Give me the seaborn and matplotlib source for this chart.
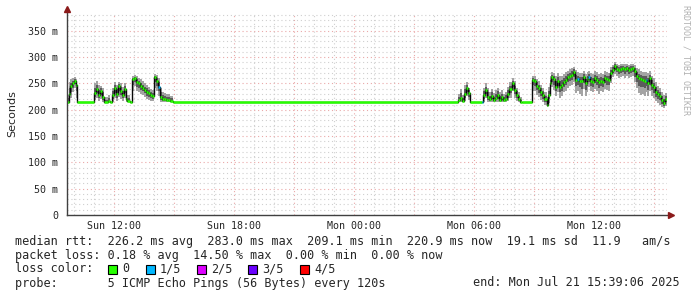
import numpy as np
import pandas as pd
import matplotlib
matplotlib.use("Agg")
import matplotlib.pyplot as plt
from matplotlib.patches import Rectangle
import seaborn as sns

# ---------------- data (minutes after window start Sun 09:39:06) ----------------
start_hour = 9 + 39.1 / 60.0
window_minutes = 1800

t_seg1 = [0, 5, 9, 15, 20, 26, 30, 81, 87, 93, 99, 105, 111, 123, 129, 135, 141, 147, 153, 159,
          165, 171, 176, 180, 189, 196, 201, 207, 213, 219, 225, 231, 237, 243, 249, 255, 262, 267,
          273, 279, 285, 291, 297, 303, 309, 318]
med_seg1 = [215, 230, 245, 250, 255, 248, 214, 232, 240, 228, 236, 225, 214, 216, 214, 228, 242, 230, 245, 235,
            228, 240, 220, 216, 214, 258, 260, 252, 250, 245, 242, 238, 234, 231, 228, 226, 262, 255,
            244, 225, 221, 220, 218, 219, 217, 214]
hi_seg1 = [228, 252, 258, 260, 262, 258, 214, 250, 254, 248, 246, 242, 224, 228, 214, 242, 252, 248, 252, 250,
           244, 250, 238, 228, 214, 264, 266, 264, 260, 258, 254, 250, 248, 244, 240, 238, 268, 266,
           260, 242, 234, 232, 230, 230, 226, 214]
lo_seg1 = [212, 214, 222, 234, 242, 222, 214, 218, 222, 216, 220, 214, 214, 214, 214, 214, 222, 216, 225, 220,
           216, 222, 214, 214, 214, 236, 246, 236, 234, 230, 228, 225, 220, 218, 216, 216, 242, 236,
           226, 214, 214, 214, 214, 214, 214, 214]

t_seg2 = [1173, 1179, 1185, 1191, 1197, 1203, 1209, 1244, 1248, 1254, 1260, 1266, 1272, 1278,
          1284, 1290, 1296, 1302, 1308, 1314, 1320, 1326, 1334, 1341, 1347, 1353, 1359, 1365]
med_seg2 = [218, 222, 216, 230, 241, 232, 214, 214, 228, 238, 225, 220, 226, 218,
            222, 228, 219, 224, 218, 221, 230, 240, 250, 238, 228, 220, 215, 214]
hi_seg2 = [230, 240, 228, 248, 252, 242, 214, 214, 242, 250, 242, 234, 240, 232,
           237, 242, 234, 237, 230, 234, 244, 252, 260, 254, 242, 234, 224, 214]
lo_seg2 = [214, 214, 214, 216, 226, 218, 214, 214, 214, 222, 214, 214, 214, 214,
           214, 214, 214, 214, 214, 214, 216, 222, 235, 222, 216, 214, 214, 214]

t_seg3 = [1394, 1401, 1407, 1413, 1419, 1425, 1431, 1439,
          1443, 1449, 1453, 1458, 1464, 1470, 1476, 1483, 1488, 1494,
          1500, 1506, 1512, 1518, 1524, 1530, 1536, 1542, 1548, 1554,
          1560, 1564, 1569, 1575, 1581, 1587, 1593, 1599, 1605, 1611,
          1617, 1623, 1629, 1635, 1641, 1647, 1653, 1659, 1665, 1671,
          1677, 1683, 1689, 1695, 1701, 1707, 1713, 1719, 1725, 1731,
          1736, 1740, 1746, 1752, 1758, 1764, 1770, 1776, 1782, 1788,
          1794]
med_seg3 = [257, 254, 246, 241, 234, 228, 220, 209,
            228, 250, 262, 258, 244, 255, 244, 247, 252, 257,
            262, 264, 266, 272, 257, 258, 255, 254, 262, 250,
            258, 263, 255, 253, 260, 257, 253, 255, 253, 260,
            258, 257, 270, 276, 283, 278, 276, 278, 279, 277,
            279, 276, 278, 279, 274, 265, 260, 258, 257, 255,
            257, 250, 260, 248, 243, 234, 230, 226, 218, 212,
            220]
hi_seg3 = [264, 264, 258, 254, 248, 242, 234, 224,
           244, 264, 272, 270, 264, 270, 264, 265, 268, 272,
           274, 277, 280, 282, 275, 272, 270, 270, 274, 268,
           272, 274, 270, 268, 274, 272, 268, 270, 268, 274,
           272, 270, 282, 286, 290, 287, 286, 287, 288, 287,
           288, 286, 287, 288, 286, 280, 277, 274, 272, 272,
           272, 270, 274, 264, 260, 252, 246, 242, 234, 228,
           232]
lo_seg3 = [236, 236, 228, 224, 218, 214, 210, 205,
           212, 232, 244, 238, 226, 234, 222, 226, 234, 236,
           242, 246, 248, 252, 232, 236, 230, 226, 240, 226,
           234, 244, 236, 234, 240, 236, 230, 236, 234, 240,
           238, 236, 250, 262, 268, 265, 260, 263, 265, 260,
           265, 260, 262, 265, 252, 242, 232, 228, 230, 226,
           234, 226, 236, 226, 222, 216, 212, 210, 205, 203,
           208]

loss_1of5_times = [273, 1244, 1530, 1564, 1736]

ytick_values = [0, 50, 100, 150, 200, 250, 300, 350]
ytick_labels = ["0", "50 m", "100 m", "150 m", "200 m", "250 m", "300 m", "350 m"]
xtick_hours = [12, 18, 24, 30, 36]
xtick_labels = ["Sun 12:00", "Sun 18:00", "Mon 00:00", "Mon 06:00", "Mon 12:00"]

loss_names = ["0", "1/5", "2/5", "3/5", "4/5"]
loss_colors = ["#26ff00", "#00b8ff", "#dd00ff", "#6a00ff", "#ff0000"]

legend_line1 = "median rtt:  226.2 ms avg  283.0 ms max  209.1 ms min  220.9 ms now  19.1 ms sd  11.9   am/s"
legend_line2 = "packet loss: 0.18 % avg  14.50 % max  0.00 % min  0.00 % now"
legend_line4 = "probe:       5 ICMP Echo Pings (56 Bytes) every 120s"
end_text = "end: Mon Jul 21 15:39:06 2025"
credit = "RRDTOOL / TOBI OETIKER"

# ---------------- build table ----------------
t_all = t_seg1 + t_seg2 + t_seg3
df = pd.DataFrame({
    "t": t_all,
    "med": med_seg1 + med_seg2 + med_seg3,
    "hi": hi_seg1 + hi_seg2 + hi_seg3,
    "lo": lo_seg1 + lo_seg2 + lo_seg3,
})
df["loss"] = np.where(df["t"].isin(loss_1of5_times), 1, 0)
last = df.iloc[[-1]].copy()
last["t"] = window_minutes
df = pd.concat([df, last], ignore_index=True)
df["hour"] = start_hour + df["t"] / 60.0

# ---------------- figure ----------------
sns.set_style("white")
plt.rcParams["font.family"] = ["DejaVu Sans Mono", "DejaVu Sans"]

W, H = 697, 297
fig = plt.figure(figsize=(W / 100, H / 100), dpi=100)
fig.patch.set_facecolor("white")
ax = fig.add_axes([67 / W, 82 / H, 600 / W, 202 / H])
ax.set_facecolor("white")

x0, x1 = start_hour, start_hour + window_minutes / 60.0
ax.set_xlim(x0, x1)
ax.set_ylim(0, 384)

# grid
minor_col = "#cfcfcf"
major_col = "#eaa8a8"
dot = (0, (1, 2.5))
for h in np.arange(10, 40, 1):
    ax.axvline(h, color=major_col if h % 3 == 0 else minor_col, lw=0.8, ls=dot, zorder=0)
for v in np.arange(10, 384, 10):
    ax.axhline(v, color=major_col if v % 50 == 0 else minor_col, lw=0.8, ls=dot, zorder=0)

# smoke
hrs = df["hour"].to_numpy()
ax.fill_between(hrs, df["lo"], df["hi"], step="post", color="#a4a4a4", lw=0, zorder=2)
ax.fill_between(hrs, (df["lo"] + df["med"]) / 2, (df["hi"] + df["med"]) / 2,
                step="post", color="#5c5c5c", lw=0, zorder=3)

# dark median connector
sns.lineplot(data=df, x="hour", y="med", drawstyle="steps-post", color="#080808",
             lw=1.0, estimator=None, sort=False, ax=ax, zorder=4)

# coloured median segments
for i in range(len(df) - 1):
    ax.hlines(df["med"].iloc[i], hrs[i], hrs[i + 1], color=loss_colors[df["loss"].iloc[i]],
              lw=1.8, zorder=5)

# axes
ax.set_xlabel("")
ax.set_ylabel("Seconds", family="DejaVu Sans", fontsize=8)
ax.yaxis.set_label_coords(-0.083, 0.5)
ax.set_xticks(xtick_hours)
ax.set_xticklabels(xtick_labels, fontsize=7.2)
ax.set_yticks(ytick_values)
ax.set_yticklabels(ytick_labels, fontsize=7.2)
ax.set_xticks(np.arange(10, 40, 1), minor=True)
ax.set_yticks(np.arange(10, 384, 10), minor=True)
ax.tick_params(axis="both", which="major", length=3, width=0.8, direction="inout",
               color="#404040", pad=3)
ax.tick_params(axis="y", which="major", pad=5)
ax.tick_params(axis="both", which="minor", length=1.5, width=0.6, direction="inout", color="#606060")
for s in ["top", "right"]:
    ax.spines[s].set_visible(False)
for s in ["left", "bottom"]:
    ax.spines[s].set_color("#404040")
    ax.spines[s].set_linewidth(1.0)
    ax.spines[s].set_zorder(6)

ax.plot([0], [1.02], marker="^", color="#8b1a1a", ms=4.5, clip_on=False,
        transform=ax.transAxes, zorder=7)
ax.plot([1.006], [0], marker=">", color="#8b1a1a", ms=4.5, clip_on=False,
        transform=ax.transAxes, zorder=7)

# legend text
fs = 8.5
def fy(py):
    return 1 - py / H

fig.text(15 / W, fy(241), legend_line1, fontsize=fs, va="center", ha="left")
fig.text(15 / W, fy(255), legend_line2, fontsize=fs, va="center", ha="left")
fig.text(15 / W, fy(269), "loss color:", fontsize=fs, va="center", ha="left")
box_x = [108, 146, 197, 248, 300]
for bx, name, col in zip(box_x, loss_names, loss_colors):
    fig.patches.append(Rectangle((bx / W, fy(274)), 9 / W, 9 / H, transform=fig.transFigure,
                                 facecolor=col, edgecolor="black", lw=0.8))
    fig.text((bx + 14) / W, fy(269), name, fontsize=fs, va="center", ha="left")
fig.text(15 / W, fy(283), legend_line4, fontsize=fs, va="center", ha="left")
fig.text(680 / W, fy(283), end_text, fontsize=fs, va="center", ha="right")
fig.text(686 / W, fy(5), credit, fontsize=6, va="top", ha="center", rotation=270,
         color="#b0b0b0")

fig.savefig("out.png", dpi=100, facecolor="white")
